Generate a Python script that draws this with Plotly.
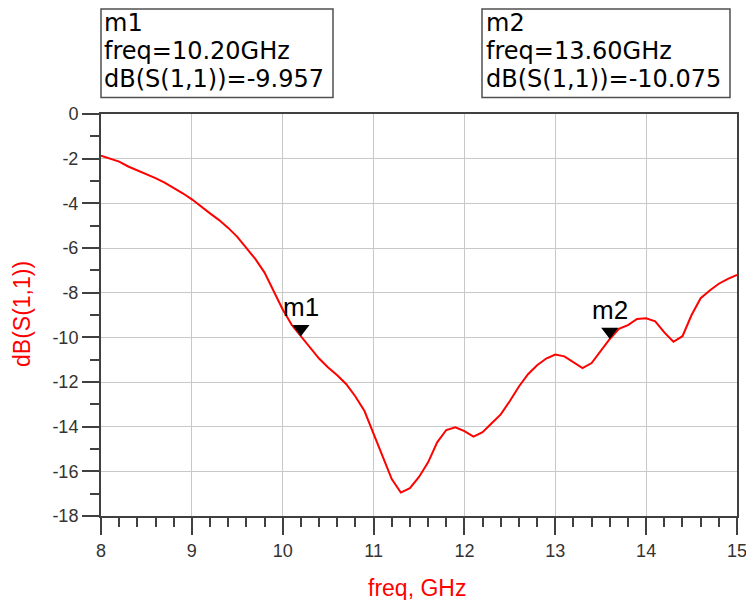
import plotly.graph_objects as go

freq = [8.0, 8.1, 8.2, 8.3, 8.4, 8.5, 8.6, 8.7, 8.8, 8.9,
        9.0, 9.1, 9.2, 9.3, 9.4, 9.5, 9.6, 9.7, 9.8, 9.9,
        10.0, 10.1, 10.2, 10.3, 10.4, 10.5, 10.6, 10.7, 10.8, 10.9,
        11.0, 11.1, 11.2, 11.3, 11.4, 11.5, 11.6, 11.7, 11.8, 11.9,
        12.0, 12.1, 12.2, 12.3, 12.4, 12.5, 12.6, 12.7, 12.8, 12.9,
        13.0, 13.1, 13.2, 13.3, 13.4, 13.5, 13.6, 13.7, 13.8, 13.9,
        14.0, 14.1, 14.2, 14.3, 14.4, 14.5, 14.6, 14.7, 14.8, 14.9, 15.0]
s11_db = [-1.87, -2.0, -2.13, -2.35, -2.52, -2.7, -2.87, -3.07, -3.3, -3.55,
          -3.82, -4.15, -4.45, -4.75, -5.1, -5.5, -6.0, -6.5, -7.1, -7.95,
          -8.75, -9.45, -9.957, -10.45, -10.95, -11.35, -11.7, -12.1, -12.65, -13.3,
          -14.3, -15.3, -16.35, -16.95, -16.75, -16.25, -15.6, -14.7, -14.15, -14.03,
          -14.2, -14.45, -14.25, -13.85, -13.45, -12.85, -12.2, -11.65, -11.25, -10.95,
          -10.77, -10.85, -11.1, -11.38, -11.15, -10.6, -10.075, -9.62, -9.45, -9.18,
          -9.15, -9.28, -9.78, -10.2, -9.95, -9.0, -8.25, -7.9, -7.6, -7.38, -7.2]

marker_names = ["m1", "m2"]
marker_freq = [10.20, 13.60]
marker_db = [-9.957, -10.075]

x_tickvals = [8, 9, 10, 11, 12, 13, 14, 15]
x_ticktext = ["8", "9", "10", "11", "12", "13", "14", "15"]
y_tickvals = [0, -2, -4, -6, -8, -10, -12, -14, -16, -18]
y_ticktext = ["0", "-2", "-4", "-6", "-8", "-10", "-12", "-14", "-16", "-18"]

x_title = "freq, GHz"
y_title = "dB(S(1,1))"

x_range = [8, 15]
y_range = [-18, 0]

W, H = 746, 600
L, R, T, B = 101, 9, 114, 84
plot_w = W - L - R
plot_h = H - T - B

def px_x(px):
    return (px - L) / plot_w

def px_y(py):
    return 1 - (py - T) / plot_h

db_per_px = (y_range[1] - y_range[0]) / plot_h
tri_size = 15
tri_offset = (tri_size / 2) * db_per_px

FONT = "Liberation Sans, Arial"
BOXFONT = "DejaVu Sans"

fig = go.Figure()
fig.add_trace(go.Scatter(x=freq, y=s11_db, mode="lines",
                         line=dict(color="#ff0000", width=2),
                         hoverinfo="skip", showlegend=False))
fig.add_trace(go.Scatter(x=marker_freq, y=[v + tri_offset for v in marker_db],
                         mode="markers",
                         marker=dict(symbol="triangle-down", size=tri_size, color="black",
                                     line=dict(width=0)),
                         showlegend=False, hoverinfo="skip"))

for name, f, v in zip(marker_names, marker_freq, marker_db):
    fig.add_annotation(x=f, y=v, text=name, showarrow=False, xanchor="center",
                       yanchor="bottom", yshift=12,
                       font=dict(family=FONT, size=26, color="black"))

font_box = dict(family=BOXFONT, size=24, color="black")
boxes = [(101, 333, 102), (482, 730, 484)]
for (x0, x1, tx), name, f, v in zip(boxes, marker_names, marker_freq, marker_db):
    fig.add_shape(type="rect", xref="paper", yref="paper",
                  x0=px_x(x0), x1=px_x(x1), y0=px_y(97.5), y1=px_y(9),
                  line=dict(color="#505050", width=1.5), fillcolor="white")
    lines = [name, "freq=%.2fGHz" % f, "dB(S(1,1))=%.3f" % v]
    for i, t in enumerate(lines):
        fig.add_annotation(xref="paper", yref="paper", x=px_x(tx), y=px_y(23 + 28 * i),
                           text=t, showarrow=False, xanchor="left", yanchor="middle",
                           font=font_box)

# axis titles
fig.add_annotation(xref="paper", yref="paper", x=px_x(417), y=px_y(588),
                   text=x_title, showarrow=False, xanchor="center", yanchor="middle",
                   font=dict(family=FONT, size=23, color="#ff0000"))
fig.add_annotation(xref="paper", yref="paper", x=px_x(22), y=px_y(314),
                   text=y_title, showarrow=False, xanchor="center", yanchor="middle",
                   textangle=-90,
                   font=dict(family=FONT, size=23, color="#ff0000"))

axis_common = dict(showline=True, linecolor="#404040", linewidth=2, mirror=True,
                   showgrid=True, gridcolor="#c8c8c8", gridwidth=1,
                   ticks="outside", ticklen=17, tickwidth=1.5, tickcolor="#404040",
                   zeroline=False, automargin=False, ticklabeloverflow="allow",
                   tickfont=dict(family=FONT, size=18, color="#333333"))

fig.update_xaxes(range=x_range, tickmode="array", tickvals=x_tickvals, ticktext=x_ticktext,
                 minor=dict(dtick=0.2, tick0=8, ticks="outside", ticklen=9, tickwidth=1.5,
                            tickcolor="#404040", showgrid=False),
                 **axis_common)
fig.update_yaxes(range=y_range, tickmode="array", tickvals=y_tickvals, ticktext=y_ticktext,
                 minor=dict(dtick=1, tick0=0, ticks="outside", ticklen=9, tickwidth=1.5,
                            tickcolor="#404040", showgrid=False),
                 **axis_common)

fig.update_layout(width=W, height=H, margin=dict(l=L, r=R, t=T, b=B, autoexpand=False),
                  plot_bgcolor="white", paper_bgcolor="white", showlegend=False)

fig.write_html("out.html", config={"displayModeBar": False},
               post_script="document.body.style.margin='0';document.body.style.overflow='hidden';")
